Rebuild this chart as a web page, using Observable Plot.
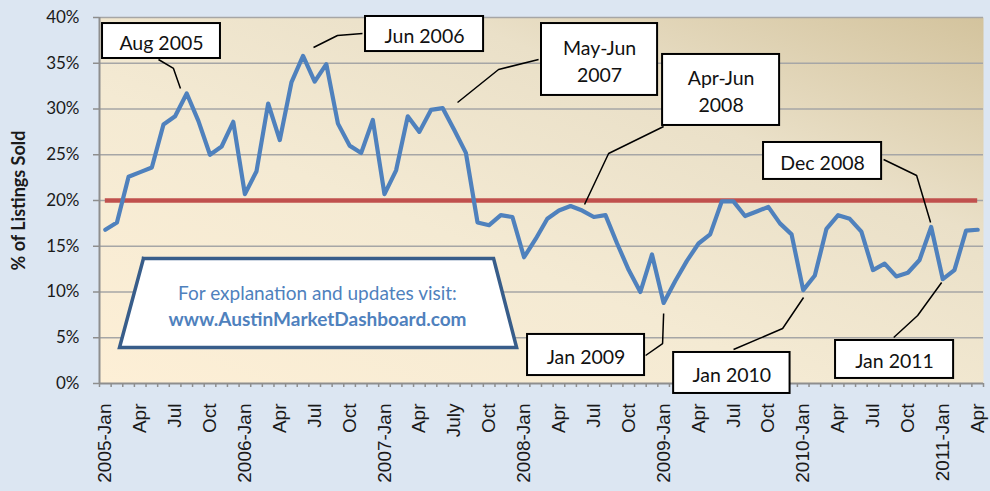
<!DOCTYPE html>
<html><head><meta charset="utf-8">
<script src="https://cdn.jsdelivr.net/npm/d3@7"></script>
<script src="https://cdn.jsdelivr.net/npm/@observablehq/plot@0.6"></script>
<style>
html,body{margin:0;padding:0;background:#DCE6F2;}
#chart{width:990px;height:491px;}
</style></head><body><div id="chart"></div>
<script>
// Monthly categories, 2005-Jan .. 2011-Apr
const months = [
  "2005-01","2005-02","2005-03","2005-04","2005-05","2005-06","2005-07","2005-08","2005-09","2005-10","2005-11","2005-12",
  "2006-01","2006-02","2006-03","2006-04","2006-05","2006-06","2006-07","2006-08","2006-09","2006-10","2006-11","2006-12",
  "2007-01","2007-02","2007-03","2007-04","2007-05","2007-06","2007-07","2007-08","2007-09","2007-10","2007-11","2007-12",
  "2008-01","2008-02","2008-03","2008-04","2008-05","2008-06","2008-07","2008-08","2008-09","2008-10","2008-11","2008-12",
  "2009-01","2009-02","2009-03","2009-04","2009-05","2009-06","2009-07","2009-08","2009-09","2009-10","2009-11","2009-12",
  "2010-01","2010-02","2010-03","2010-04","2010-05","2010-06","2010-07","2010-08","2010-09","2010-10","2010-11","2010-12",
  "2011-01","2011-02","2011-03","2011-04"
];
// % of listings sold
const pctSold = [
  16.8, 17.6, 22.6, 23.1, 23.6, 28.3, 29.2, 31.7, 28.7, 25.0, 25.9, 28.6,
  20.7, 23.2, 30.6, 26.6, 32.9, 35.8, 33.0, 34.9, 28.4, 26.0, 25.2, 28.8,
  20.7, 23.3, 29.2, 27.5, 29.9, 30.1, 27.7, 25.2, 17.6, 17.3, 18.4, 18.2,
  13.8, 15.8, 18.0, 18.9, 19.4, 18.9, 18.2, 18.4, 15.3, 12.4, 10.0, 14.1,
   8.8, 11.2, 13.4, 15.3, 16.3, 19.9, 19.9, 18.3, 18.8, 19.3, 17.5, 16.3,
  10.2, 11.8, 16.9, 18.4, 18.0, 16.6, 12.4, 13.1, 11.7, 12.1, 13.5, 17.1,
  11.4, 12.4, 16.7, 16.8
];
const benchmark = 20;
const tickLabels = ["2005-Jan","Apr","Jul","Oct","2006-Jan","Apr","Jul","Oct","2007-Jan","Apr","July","Oct",
  "2008-Jan","Apr","Jul","Oct","2009-Jan","Apr","Jul","Oct","2010-Jan","Apr","Jul","Oct","2011-Jan","Apr"];
const tickEvery = 3;
const yTicks = [0, 5, 10, 15, 20, 25, 30, 35, 40];
const yTitle = "% of Listings Sold";

// Callout annotations (positions in data units: month index, percent)
const calloutText = ["Aug 2005","Jun 2006","May-Jun\n2007","Apr-Jun\n2008","Dec 2008","Jan 2009","Jan 2010","Jan 2011"];
const boxX1 = [-0.24, 22.37, 37.50, 47.91, 56.59, 36.30, 48.86, 62.78];
const boxX2 = [ 9.90, 32.52, 47.48, 57.97, 66.74, 46.36, 58.87, 72.93];
const boxTop = [39.34, 40.11, 39.34, 35.96, 26.34, 5.36, 3.39, 4.70];
const boxBot = [35.52, 36.28, 31.48, 28.20, 22.30, 0.87, -1.09, 0.55];
const leaderX = [
  [4.57, 5.86, 6.46], [22.11, 19.96, 17.90], [37.25, 33.81, 30.28], [48.0, 43.27, 41.20],
  [66.91, 69.75, 70.95], [46.45, 47.91, 48.0], [54.01, 58.23, 60.03], [67.78, 69.84, 71.90]
];
const leaderY = [
  [35.41, 34.43, 32.24], [38.25, 38.03, 36.72], [35.41, 34.32, 30.71], [28.09, 25.14, 19.56],
  [24.48, 22.73, 17.60], [3.06, 4.37, 7.65], [3.72, 6.01, 9.40], [5.03, 7.43, 11.04]
];
// Info box (trapezoid)
const infoLines = ["For explanation and updates visit:", "www.AustinMarketDashboard.com"];
const infoX = [3.28, 33.38, 35.36, 1.22, 3.28];
const infoY = [13.66, 13.66, 3.93, 3.93, 13.66];
const infoTextX = 18.24;
const infoTextY = [9.84, 6.99];

// Build tables
const data = pctSold.map((v, i) => ({i, month: months[i], v}));
const boundaries = d3.range(months.length + 1).map(i => i - 0.5);
const labelIdx = tickLabels.map((_, k) => k * tickEvery);
const callouts = calloutText.map((t, k) => ({t, x1: boxX1[k], x2: boxX2[k], y1: boxTop[k], y2: boxBot[k]}));
const leaders = leaderX.flatMap((xs, k) => xs.map((x, j) => ({id: k, x, y: leaderY[k][j]})));
const trap = infoX.map((x, j) => ({x, y: infoY[j]}));

const plot = Plot.plot({
  width: 990, height: 491,
  marginTop: 17, marginBottom: 108, marginLeft: 99, marginRight: 7,
  style: {background: "transparent", fontFamily: "Lato, sans-serif", overflow: "visible", color: "#1A1A1A"},
  x: {domain: [-0.5, months.length - 0.5], axis: null},
  y: {domain: [0, 40], axis: null},
  marks: [
    Plot.frame({fill: "url(#plotbg)", stroke: null}),
    Plot.ruleY(yTicks.slice(1), {stroke: "#A6A6A6", strokeWidth: 1.5}),
    Plot.ruleX([-0.5], {stroke: "#8E8E8E", strokeWidth: 2}),
    Plot.ruleY([0], {stroke: "#8E8E8E", strokeWidth: 2}),
    Plot.axisY({ticks: yTicks, tickSize: 6, tickPadding: 14, tickFormat: d => d + "%",
      fontSize: 17, stroke: "#8E8E8E", fill: "#1A1A1A", strokeWidth: 1.5}),
    Plot.axisX({ticks: boundaries, tickSize: 4, tickFormat: () => "", stroke: "#8E8E8E", strokeWidth: 1.5}),
    Plot.axisX({ticks: labelIdx, tickSize: 0, tickPadding: 20, tickRotate: -90,
      tickFormat: d => tickLabels[Math.round(d / tickEvery)],
      fontSize: 19, fontFamily: "Liberation Sans, Arial, sans-serif", fill: "#1A1A1A"}),
    Plot.ruleY([benchmark], {x1: 0, x2: months.length - 1, stroke: "#C0504D", strokeWidth: 4.5}),
    Plot.line(data, {x: "i", y: "v", stroke: "#4F81BD", strokeWidth: 4.2, strokeLinejoin: "round"}),
    Plot.line(leaders, {x: "x", y: "y", z: "id", stroke: "black", strokeWidth: 1.5, strokeLinejoin: "miter", strokeLinecap: "butt"}),
    Plot.rect(callouts, {x1: "x1", x2: "x2", y1: "y1", y2: "y2", fill: "white", stroke: "black", strokeWidth: 2}),
    Plot.text(callouts, {x: d => (d.x1 + d.x2) / 2, y: d => (d.y1 + d.y2) / 2, text: "t",
      fontSize: 19.5, lineHeight: 1.4, fill: "#111"}),
    Plot.line(trap, {x: "x", y: "y", fill: "white", stroke: "#385D8A", strokeWidth: 3.5,
      strokeLinejoin: "miter", strokeMiterlimit: 10, strokeLinecap: "square"}),
    Plot.text([infoLines[0]], {x: infoTextX, y: infoTextY[0], fontSize: 19, fill: "#4F81BD"}),
    Plot.text([infoLines[1]], {x: infoTextX, y: infoTextY[1], fontSize: 19, fontWeight: "bold", fill: "#4F81BD"}),
    Plot.text([yTitle], {frameAnchor: "left", textAnchor: "middle", dx: -80, rotate: -90, fontSize: 18, fontWeight: "bold",
      fontFamily: "Lato, sans-serif", fill: "#1A1A1A"})
  ]
});

d3.select(plot).insert("defs", ":first-child").html(
  `<linearGradient id="plotbg" x1="1" y1="0" x2="0" y2="1">
     <stop offset="0" stop-color="#D3C39D"/>
     <stop offset="0.3" stop-color="#EAE0C8"/>
     <stop offset="0.6" stop-color="#F4EAD3"/>
     <stop offset="1" stop-color="#FDEFD6"/>
   </linearGradient>`);
document.getElementById("chart").appendChild(plot);
</script>
</body></html>
